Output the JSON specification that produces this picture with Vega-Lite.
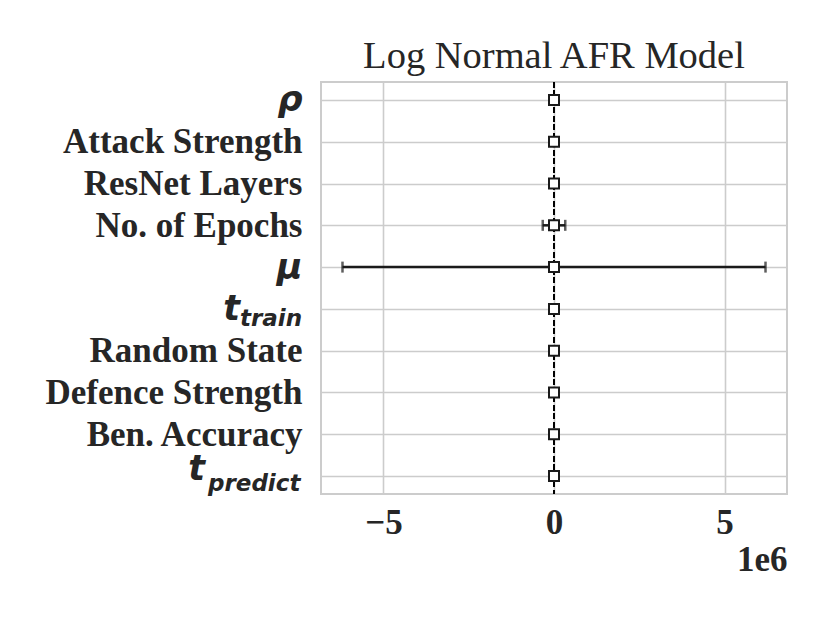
{
  "$schema": "https://vega.github.io/schema/vega-lite/v6.json",
  "width": 466,
  "height": 412,
  "autosize": {"type": "none"},
  "padding": {"left": 321, "top": 82, "right": 43, "bottom": 129},
  "background": "white",
  "title": {"text": "Log Normal AFR Model", "font": "Liberation Serif", "fontSize": 38.5, "fontWeight": "normal", "color": "#262626", "offset": 5, "anchor": "middle"},
  "config": {
    "view": {"stroke": "#cccccc", "strokeWidth": 2},
    "axis": {"labelColor": "#262626", "titleColor": "#262626", "gridColor": "#cccccc", "gridWidth": 1.6, "ticks": false, "domain": false, "labelLimit": 0}
  },
  "data": {"values": [
    {"param": "rho", "mean": 0, "lo": -5000, "hi": 5000},
    {"param": "Attack Strength", "mean": 0, "lo": -5000, "hi": 5000},
    {"param": "ResNet Layers", "mean": 0, "lo": -5000, "hi": 5000},
    {"param": "No. of Epochs", "mean": 0, "lo": -330000, "hi": 330000},
    {"param": "mu", "mean": 0, "lo": -6200000, "hi": 6200000},
    {"param": "t_train", "mean": 0, "lo": -5000, "hi": 5000},
    {"param": "Random State", "mean": 0, "lo": -5000, "hi": 5000},
    {"param": "Defence Strength", "mean": 0, "lo": -5000, "hi": 5000},
    {"param": "Ben. Accuracy", "mean": 0, "lo": -5000, "hi": 5000},
    {"param": "t_predict", "mean": 0, "lo": -5000, "hi": 5000}
  ]},
  "layer": [
    {
      "mark": {"type": "rule", "color": "#000000", "strokeWidth": 2, "strokeDash": [5.5, 3]},
      "encoding": {
        "x": {"datum": 0, "type": "quantitative", "scale": {"domain": [-6830000, 6830000], "nice": false, "zero": false}}
      }
    },
    {
      "mark": {"type": "rule", "color": "#1a1a1a", "strokeWidth": 2.5},
      "encoding": {
        "y": {"field": "param", "type": "nominal",
          "sort": ["rho", "Attack Strength", "ResNet Layers", "No. of Epochs", "mu", "t_train", "Random State", "Defence Strength", "Ben. Accuracy", "t_predict"],
          "scale": {"type": "point", "padding": 0.43},
          "axis": {"title": null, "grid": true, "labelPadding": 19, "labelFontSize": 35, "labelLimit": 0,
            "labelExpr": "datum.value == 'rho' ? 'ρ' : datum.value == 'mu' ? 'μ' : (datum.value == 't_train' || datum.value == 't_predict') ? '' : datum.value",
            "labelFont": {"condition": {"test": "datum.value == 'rho' || datum.value == 'mu'", "value": "DejaVu Sans"}, "value": "Liberation Serif"},
            "labelFontStyle": {"condition": {"test": "datum.value == 'rho' || datum.value == 'mu'", "value": "italic"}, "value": "normal"},
            "labelFontWeight": "bold", "labelBaseline": "middle"}},
        "x": {"field": "lo", "type": "quantitative",
          "scale": {"domain": [-6830000, 6830000], "nice": false, "zero": false},
          "axis": {"title": "1e6", "values": [-5000000, 0, 5000000], "grid": true,
            "labelExpr": "format(datum.value / 1000000, 'd')",
            "labelFont": "Liberation Serif", "labelFontSize": 35, "labelFontWeight": "bold", "labelPadding": 11,
            "titleFont": "Liberation Serif", "titleFontSize": 35, "titleFontWeight": "bold", "titleAnchor": "end", "titleAlign": "right", "titlePadding": 2}},
        "x2": {"field": "hi"}
      }
    },
    {
      "mark": {"type": "tick", "color": "#1a1a1a", "thickness": 2.5, "size": 11, "orient": "vertical"},
      "encoding": {
        "y": {"field": "param", "type": "nominal", "sort": ["rho", "Attack Strength", "ResNet Layers", "No. of Epochs", "mu", "t_train", "Random State", "Defence Strength", "Ben. Accuracy", "t_predict"]},
        "x": {"field": "lo", "type": "quantitative"}
      }
    },
    {
      "mark": {"type": "tick", "color": "#1a1a1a", "thickness": 2.5, "size": 11, "orient": "vertical"},
      "encoding": {
        "y": {"field": "param", "type": "nominal", "sort": ["rho", "Attack Strength", "ResNet Layers", "No. of Epochs", "mu", "t_train", "Random State", "Defence Strength", "Ben. Accuracy", "t_predict"]},
        "x": {"field": "hi", "type": "quantitative"}
      }
    },
    {
      "mark": {"type": "point", "shape": "square", "size": 100, "filled": true, "fill": "white", "stroke": "#1a1a1a", "strokeWidth": 2, "opacity": 1},
      "encoding": {
        "y": {"field": "param", "type": "nominal", "sort": ["rho", "Attack Strength", "ResNet Layers", "No. of Epochs", "mu", "t_train", "Random State", "Defence Strength", "Ben. Accuracy", "t_predict"]},
        "x": {"field": "mean", "type": "quantitative"}
      }
    },
    {
      "transform": [{"filter": "datum.param == 't_train'"}],
      "mark": {"type": "text", "text": "t", "font": "DejaVu Sans", "fontWeight": "bold", "fontStyle": "italic", "fontSize": 35, "align": "right", "baseline": "alphabetic", "dx": -81, "dy": 11, "color": "#262626"},
      "encoding": {
        "y": {"field": "param", "type": "nominal", "sort": ["rho", "Attack Strength", "ResNet Layers", "No. of Epochs", "mu", "t_train", "Random State", "Defence Strength", "Ben. Accuracy", "t_predict"]},
        "x": {"datum": -6830000, "type": "quantitative"}
      }
    },
    {
      "transform": [{"filter": "datum.param == 't_train'"}],
      "mark": {"type": "text", "text": "train", "font": "DejaVu Sans", "fontWeight": "bold", "fontStyle": "italic", "fontSize": 23, "align": "left", "baseline": "alphabetic", "dx": -81, "dy": 17, "color": "#262626"},
      "encoding": {
        "y": {"field": "param", "type": "nominal", "sort": ["rho", "Attack Strength", "ResNet Layers", "No. of Epochs", "mu", "t_train", "Random State", "Defence Strength", "Ben. Accuracy", "t_predict"]},
        "x": {"datum": -6830000, "type": "quantitative"}
      }
    },
    {
      "transform": [{"filter": "datum.param == 't_predict'"}],
      "mark": {"type": "text", "text": "t", "font": "DejaVu Sans", "fontWeight": "bold", "fontStyle": "italic", "fontSize": 35, "align": "right", "baseline": "alphabetic", "dx": -116, "dy": 4, "color": "#262626"},
      "encoding": {
        "y": {"field": "param", "type": "nominal", "sort": ["rho", "Attack Strength", "ResNet Layers", "No. of Epochs", "mu", "t_train", "Random State", "Defence Strength", "Ben. Accuracy", "t_predict"]},
        "x": {"datum": -6830000, "type": "quantitative"}
      }
    },
    {
      "transform": [{"filter": "datum.param == 't_predict'"}],
      "mark": {"type": "text", "text": "predict", "font": "DejaVu Sans", "fontWeight": "bold", "fontStyle": "italic", "fontSize": 23, "align": "left", "baseline": "alphabetic", "dx": -113, "dy": 15, "color": "#262626"},
      "encoding": {
        "y": {"field": "param", "type": "nominal", "sort": ["rho", "Attack Strength", "ResNet Layers", "No. of Epochs", "mu", "t_train", "Random State", "Defence Strength", "Ben. Accuracy", "t_predict"]},
        "x": {"datum": -6830000, "type": "quantitative"}
      }
    }
  ]
}
